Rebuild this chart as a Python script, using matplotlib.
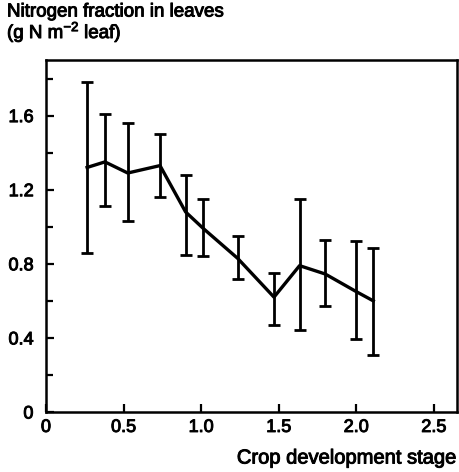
import matplotlib
matplotlib.use("Agg")
import matplotlib.pyplot as plt
import matplotlib.patheffects as pe
from matplotlib.ticker import MultipleLocator

plt.rcParams['font.family'] = ['Liberation Sans', 'DejaVu Sans']
plt.rcParams['mathtext.fontset'] = 'custom'
plt.rcParams['mathtext.rm'] = 'Liberation Sans'
plt.rcParams['mathtext.default'] = 'regular'

# Leaf nitrogen per unit leaf area vs crop development stage
stage = [0.265, 0.38, 0.527, 0.735, 0.90, 1.015, 1.235, 1.47, 1.635, 1.80, 2.00, 2.11]
nitrogen = [1.32, 1.35, 1.29, 1.33, 1.08, 0.99, 0.83, 0.62, 0.79, 0.745, 0.65, 0.60]
upper = [1.78, 1.61, 1.56, 1.50, 1.28, 1.15, 0.95, 0.75, 1.15, 0.93, 0.925, 0.885]
lower = [0.86, 1.11, 1.03, 1.16, 0.85, 0.84, 0.72, 0.47, 0.44, 0.57, 0.395, 0.31]

x_ticks = [0, 0.5, 1.0, 1.5, 2.0, 2.5]
x_labels = ["0", "0.5", "1.0", "1.5", "2.0", "2.5"]
y_ticks = [0, 0.4, 0.8, 1.2, 1.6]
y_labels = ["0", "0.4", "0.8", "1.2", "1.6"]

# slightly heavier glyphs
heavy = [pe.withStroke(linewidth=0.7, foreground='black')]

fig = plt.figure(figsize=(4.59, 4.72), dpi=100)
ax = fig.add_axes([46 / 459, 1 - 412 / 472, 411 / 459, 352 / 472])

yerr = [[n - lo for n, lo in zip(nitrogen, lower)],
        [up - n for n, up in zip(nitrogen, upper)]]
ax.errorbar(stage, nitrogen, yerr=yerr, color='black', lw=2.4,
            elinewidth=2.0, capsize=4, capthick=2.0)

ax.set_xlim(0, 2.65)
ax.set_ylim(0, 1.90)
ax.set_xticks(x_ticks)
ax.set_xticklabels(x_labels)
ax.set_yticks(y_ticks)
ax.set_yticklabels(y_labels)
ax.yaxis.set_minor_locator(MultipleLocator(0.2))

ax.tick_params(which='both', direction='in', width=1.6, labelsize=13)
ax.tick_params(axis='x', pad=5)
ax.tick_params(axis='y', pad=9)
ax.tick_params(which='major', length=6)
ax.tick_params(which='minor', length=5)
for s in ax.spines.values():
    s.set_linewidth(1.8)
for lab in ax.get_xticklabels() + ax.get_yticklabels():
    lab.set_path_effects(heavy)

fig.text(7 / 459, 1 - 12 / 472, "Nitrogen fraction in leaves",
         fontsize=13.5, va='center', ha='left', path_effects=heavy)
fig.text(7 / 459, 1 - 32 / 472, "(g N m$^{-2}$ leaf)",
         fontsize=13.5, va='center', ha='left', path_effects=heavy)
fig.text(457 / 459, 1 - 458 / 472, "Crop development stage",
         fontsize=14.5, va='center', ha='right', path_effects=heavy)

fig.savefig("out.png", dpi=100)
